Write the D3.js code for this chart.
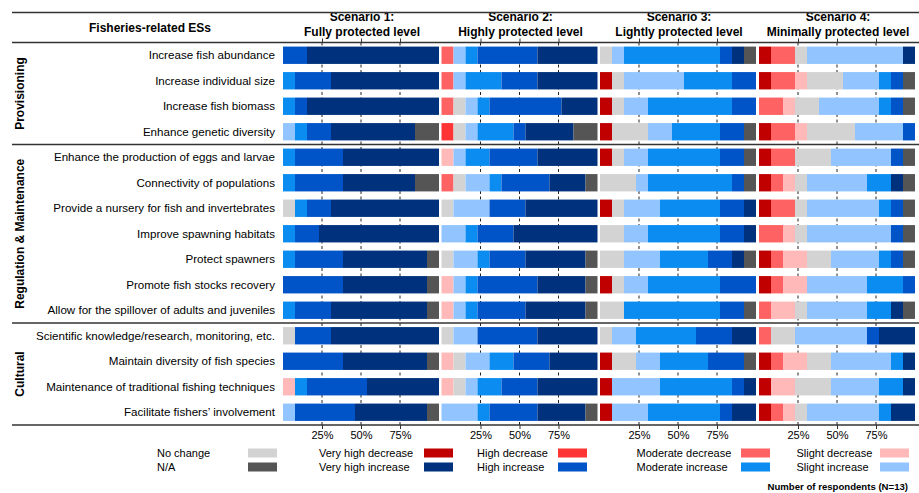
<!DOCTYPE html>
<html>
<head>
<meta charset="utf-8">
<script src="https://cdn.jsdelivr.net/npm/d3@7"></script>
<style>
  body { margin: 0; background: #fff; }
  svg { font-family: "Liberation Sans", Arial, sans-serif; }
</style>
</head>
<body>
<svg width="919" height="493"></svg>
<script>
// ---- data ----
const services = [
  'Increase fish abundance',
  'Increase individual size',
  'Increase fish biomass',
  'Enhance genetic diversity',
  'Enhance the production of eggs and larvae',
  'Connectivity of populations',
  'Provide a nursery for fish and invertebrates',
  'Improve spawning habitats',
  'Protect spawners',
  'Promote fish stocks recovery',
  'Allow for the spillover of adults and juveniles',
  'Scientific knowledge/research, monitoring, etc.',
  'Maintain diversity of fish species',
  'Maintenance of traditional fishing techniques',
  'Facilitate fishers\u2019 involvement'
];
const groups = ['Provisioning', 'Regulation & Maintenance', 'Cultural'];
const groupSizes = [4, 7, 4];

const scenarioTitles = [
  ['Scenario 1:', 'Fully protected level'],
  ['Scenario 2:', 'Highly protected level'],
  ['Scenario 3:', 'Lightly protected level'],
  ['Scenario 4:', 'Minimally protected level']
];

const levels = [
  'Very high decrease', 'High decrease', 'Moderate decrease', 'Slight decrease',
  'No change', 'Slight increase', 'Moderate increase', 'High increase',
  'Very high increase', 'N/A'
];

// respondents per level (same order as levels), one row per service
const scenario1 = [
  [0,0,0,0,0,0,0,2,11,0],
  [0,0,0,0,0,0,1,3,9,0],
  [0,0,0,0,0,0,1,1,11,0],
  [0,0,0,0,0,1,1,2,7,2],
  [0,0,0,0,0,0,1,4,8,0],
  [0,0,0,0,0,0,1,4,6,2],
  [0,0,0,0,1,0,1,2,9,0],
  [0,0,0,0,0,0,1,2,10,0],
  [0,0,0,0,0,0,1,4,7,1],
  [0,0,0,0,0,0,0,5,7,1],
  [0,0,0,0,0,0,1,3,8,1],
  [0,0,0,0,1,0,0,3,9,0],
  [0,0,0,0,0,0,0,5,7,1],
  [0,0,0,1,0,0,1,5,6,0],
  [0,0,0,0,0,1,0,5,6,1]
];
const scenario2 = [
  [0,0,1,0,0,1,1,5,5,0],
  [0,0,1,0,0,1,3,3,5,0],
  [0,0,1,0,1,1,1,6,3,0],
  [0,1,0,0,1,1,3,1,4,2],
  [0,0,0,1,0,1,2,4,5,0],
  [0,0,1,0,1,2,1,4,3,1],
  [0,0,0,0,1,3,0,3,6,0],
  [0,0,0,0,0,2,1,3,7,0],
  [0,0,0,0,1,2,1,3,5,1],
  [0,0,0,1,0,1,1,5,4,1],
  [0,0,0,1,0,1,1,4,5,1],
  [0,0,0,0,1,2,0,5,5,0],
  [0,0,0,1,1,2,2,3,4,0],
  [0,0,0,1,1,1,2,3,5,0],
  [0,0,0,0,0,3,1,4,4,1]
];
const scenario3 = [
  [0,0,0,0,1,1,8,1,1,1],
  [1,0,0,0,1,5,4,2,0,0],
  [1,0,0,0,1,2,7,2,0,0],
  [1,0,0,0,3,2,4,2,0,1],
  [1,0,0,0,1,2,6,2,0,1],
  [0,0,0,0,3,1,7,1,0,1],
  [1,0,0,0,1,3,5,2,1,0],
  [0,0,0,0,2,2,6,2,1,0],
  [0,0,0,0,2,3,4,2,1,1],
  [1,0,0,0,1,2,6,3,0,0],
  [0,0,0,0,2,0,8,2,0,1],
  [0,0,0,0,1,2,5,3,2,0],
  [1,0,0,0,2,2,4,3,0,1],
  [1,0,0,0,0,4,6,1,1,0],
  [1,0,0,0,0,3,6,1,2,0]
];
const scenario4 = [
  [1,0,2,0,1,8,0,0,1,0],
  [1,0,2,1,3,3,1,1,0,1],
  [0,0,2,1,2,5,1,1,0,1],
  [1,0,2,1,4,4,0,1,0,0],
  [1,0,2,0,3,5,0,1,0,1],
  [1,0,1,1,1,5,2,0,1,1],
  [1,0,2,0,1,6,1,1,0,1],
  [0,0,2,1,1,7,0,1,0,1],
  [1,0,1,2,2,4,1,1,0,1],
  [1,0,1,2,0,5,3,1,0,0],
  [0,0,1,2,1,5,2,0,1,1],
  [0,0,1,0,2,6,0,1,3,0],
  [1,0,1,2,2,5,1,0,1,0],
  [1,0,0,2,3,4,2,0,1,0],
  [1,0,1,1,1,6,1,0,2,0]
];
const scenarios = [scenario1, scenario2, scenario3, scenario4];
const respondents = 13;
const tickPercents = [0.25, 0.5, 0.75];

(function (d3) {
  const levelColors = [
    '#c00000', '#ff3535', '#ff6262', '#ffb9b9',
    '#d3d3d3', '#92c5ff', '#0a8cf0', '#0054c8',
    '#00317c', '#555555'
  ];
  const colorScale = d3.scaleOrdinal().domain(levels).range(levelColors);

  const svg = d3.select('svg');
  const width = +svg.attr('width');

  const top = 42.5, bottom = 425;
  const panelX = [283, 441.5, 600, 759];
  const panelW = 156;
  const lineColor = '#333';

  const yScale = d3.scaleBand()
    .domain(services)
    .range([top, bottom])
    .paddingInner(0.32)
    .paddingOuter(0.16);

  const stack = d3.stack().keys(levels);

  scenarios.forEach((rows, s) => {
    const x0 = panelX[s];
    const xScale = d3.scaleLinear()
      .domain([0, respondents])
      .range([x0, x0 + panelW]);

    const table = rows.map((r, i) => {
      const o = { service: services[i] };
      levels.forEach((k, j) => o[k] = r[j]);
      return o;
    });

    const g = svg.append('g').attr('class', 'panel');

    // dashed grid lines behind bars
    g.selectAll('.grid').data(tickPercents)
      .enter().append('line')
        .attr('class', 'grid')
        .attr('x1', d => xScale(d * respondents))
        .attr('x2', d => xScale(d * respondents))
        .attr('y1', top)
        .attr('y2', bottom)
        .attr('stroke', '#222')
        .attr('stroke-width', 1)
        .attr('stroke-dasharray', '3,2.5');

    const series = g.selectAll('.series').data(stack(table))
      .enter().append('g')
        .attr('class', 'series')
        .attr('fill', d => colorScale(d.key));

    series.selectAll('rect').data(d => d)
      .enter().append('rect')
        .attr('x', d => xScale(d[0]))
        .attr('y', d => yScale(d.data.service))
        .attr('width', d => xScale(d[1]) - xScale(d[0]))
        .attr('height', yScale.bandwidth());

    // bottom axis
    const xAxis = d3.axisBottom(xScale)
      .tickValues(tickPercents.map(p => p * respondents))
      .tickFormat(d => Math.round(d / respondents * 100) + '%')
      .tickSize(4)
      .tickPadding(2);
    const axG = g.append('g')
      .attr('transform', `translate(0,${bottom})`)
      .call(xAxis);
    axG.select('.domain').remove();
    axG.selectAll('line').attr('stroke', lineColor);
    axG.selectAll('text')
      .attr('fill', '#000')
      .style('font-family', '"Liberation Sans", Arial, sans-serif')
      .style('font-size', '11px');

    // top ticks
    const topAxis = d3.axisTop(xScale)
      .tickValues(tickPercents.map(p => p * respondents))
      .tickFormat('')
      .tickSize(4);
    const topG = g.append('g')
      .attr('transform', `translate(0,${top})`)
      .call(topAxis);
    topG.select('.domain').remove();
    topG.selectAll('line').attr('stroke', lineColor);

    // scenario title
    g.selectAll('.title').data(scenarioTitles[s])
      .enter().append('text')
        .attr('class', 'title')
        .attr('x', x0 + panelW / 2 + 1)
        .attr('y', (d, i) => 21 + i * 15)
        .attr('text-anchor', 'middle')
        .style('font-weight', 'bold')
        .style('font-size', '12px')
        .text(d => d);
  });

  // row labels
  svg.selectAll('.row-label').data(services)
    .enter().append('text')
      .attr('class', 'row-label')
      .attr('x', 275)
      .attr('y', d => yScale(d) + yScale.bandwidth() / 2)
      .attr('dy', '0.35em')
      .attr('text-anchor', 'end')
      .style('font-size', '11.6px')
      .text(d => d);

  // header
  svg.append('text')
    .attr('x', 150)
    .attr('y', 28)
    .attr('dy', '0.35em')
    .attr('text-anchor', 'middle')
    .style('font-weight', 'bold')
    .style('font-size', '12px')
    .text('Fisheries-related ESs');

  // horizontal rules: top, under header, group separators, bottom
  const step = yScale.step();
  let acc = 0;
  const groupBounds = groupSizes.map(n => {
    const b = [top + acc * step, top + (acc + n) * step];
    acc += n;
    return b;
  });
  const rules = [12.5, top].concat(groupBounds.map(b => b[1]));
  svg.selectAll('.rule').data(rules)
    .enter().append('line')
      .attr('class', 'rule')
      .attr('x1', 12)
      .attr('x2', width)
      .attr('y1', d => d)
      .attr('y2', d => d)
      .attr('stroke', lineColor)
      .attr('stroke-width', 1.5);

  // group labels, rotated
  svg.selectAll('.group-label').data(groups)
    .enter().append('text')
      .attr('class', 'group-label')
      .attr('transform', (d, i) =>
        `translate(20,${(groupBounds[i][0] + groupBounds[i][1]) / 2}) rotate(-90)`)
      .attr('dy', '0.35em')
      .attr('text-anchor', 'middle')
      .style('font-weight', 'bold')
      .style('font-size', '12px')
      .text(d => d);

  // legend
  const legendCols = [
    { text: 157, swatch: 248, keys: ['No change', 'N/A'] },
    { text: 319, swatch: 424, keys: ['Very high decrease', 'Very high increase'] },
    { text: 477, swatch: 558, keys: ['High decrease', 'High increase'] },
    { text: 636.5, swatch: 741, keys: ['Moderate decrease', 'Moderate increase'] },
    { text: 796.5, swatch: 880, keys: ['Slight decrease', 'Slight increase'] }
  ];
  const legendRows = [453, 467];
  const legend = svg.append('g').attr('class', 'legend');
  legendCols.forEach(col => {
    col.keys.forEach((k, i) => {
      legend.append('text')
        .attr('x', col.text)
        .attr('y', legendRows[i])
        .attr('dy', '0.35em')
        .style('font-size', '11px')
        .text(k);
      legend.append('rect')
        .attr('x', col.swatch)
        .attr('y', legendRows[i] - 4.5)
        .attr('width', 29)
        .attr('height', 9)
        .attr('fill', colorScale(k));
    });
  });

  svg.append('text')
    .attr('x', 908)
    .attr('y', 487)
    .attr('dy', '0.35em')
    .attr('text-anchor', 'end')
    .style('font-weight', 'bold')
    .style('font-size', '9.6px')
    .text('Number of respondents (N=13)');

}(d3));
</script>
</body>
</html>
